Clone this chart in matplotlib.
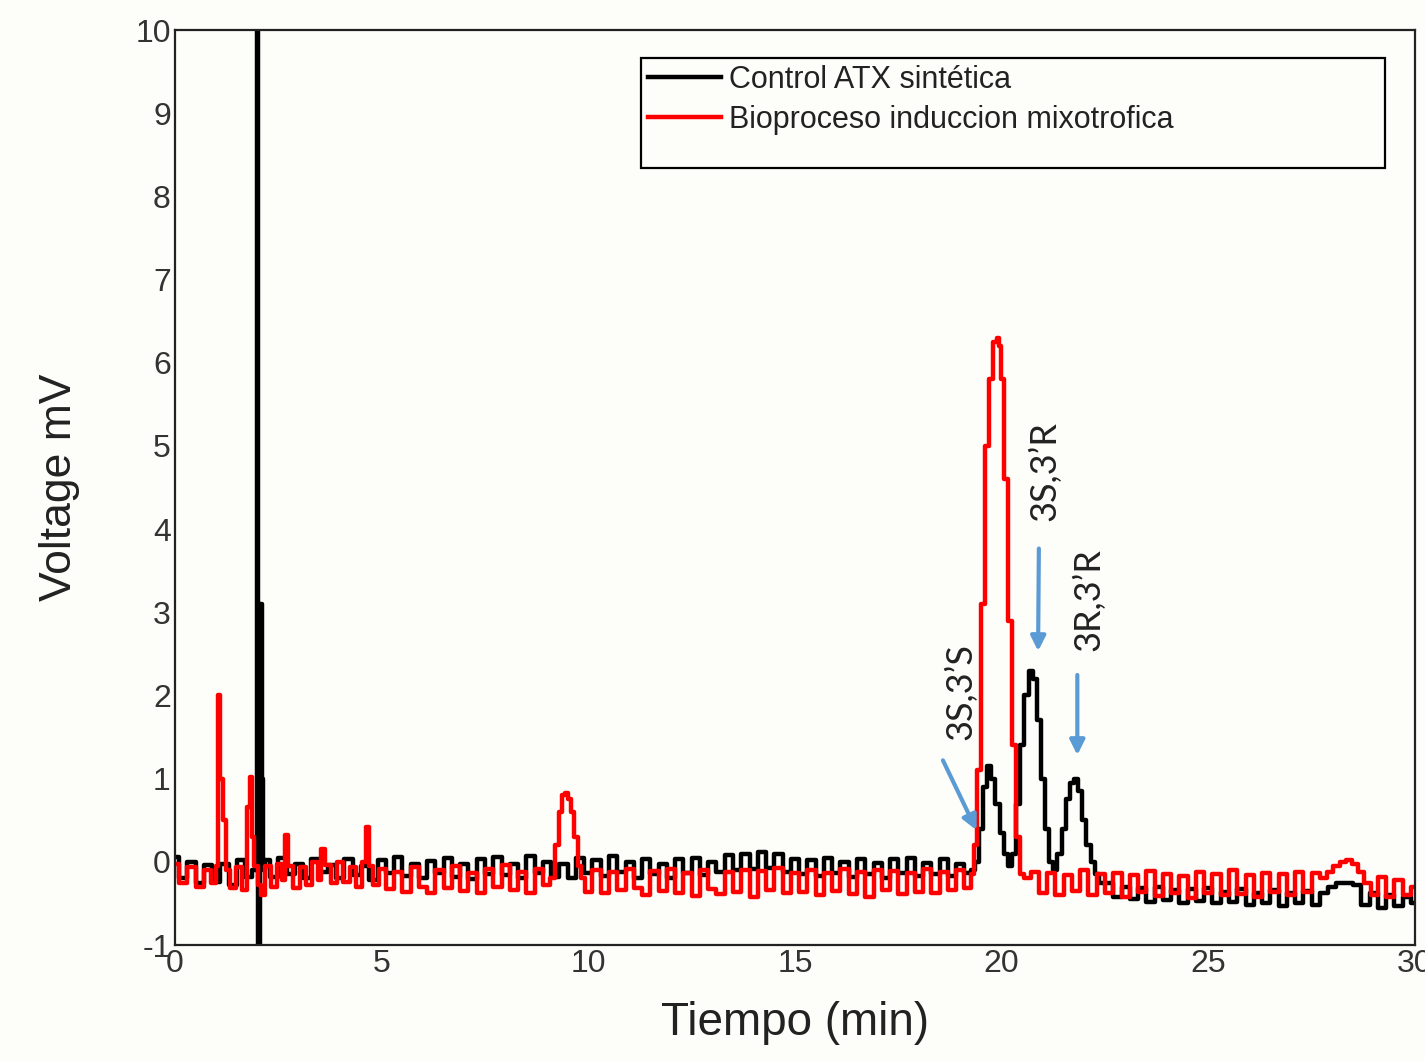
import numpy as np
import matplotlib.pyplot as plt
from matplotlib.patches import Rectangle

plt.rcParams['axes.unicode_minus'] = False

# Chromatogram traces (time in min, signal in mV)

# --- Control ATX sintetica (black) ---
black_base1_mv = [0.06, -0.2, 0.0, -0.26, -0.04, -0.24, -0.02, -0.28, 0.02, -0.18]     # 0.0-1.8 every 0.2
black_spike_t = [1.95, 2.0, 2.04, 2.08, 2.12, 2.16]
black_spike_mv = [-0.1, 11.0, -1.5, 3.1, 1.0, -0.1]
black_base2_mv = [0.02, -0.18, 0.05, -0.15, -0.02, -0.2, 0.04, -0.12, -0.04, -0.19,
                  0.03, -0.16, -0.05, -0.22, 0.02, -0.14, 0.06, -0.17, -0.03, -0.2,
                  0.01, -0.13, 0.05, -0.18, -0.02, -0.21, 0.04, -0.15, 0.06, -0.16,
                  -0.03, -0.2, 0.07, -0.13, 0.0, -0.18, -0.02, -0.2, 0.05, -0.14,
                  0.02, -0.17, 0.07, -0.12, 0.0, -0.19, 0.04, -0.15, -0.02, -0.2,
                  0.03, -0.13, 0.05, -0.16, 0.0, -0.12, 0.08, -0.1, 0.1, -0.08,
                  0.12, -0.07, 0.09, -0.12, 0.04, -0.15, 0.02, -0.17, 0.05, -0.14,
                  0.0, -0.18, 0.04, -0.15, -0.01, -0.19, 0.03, -0.14, 0.05, -0.17,
                  -0.01, -0.15, 0.03, -0.17, -0.02, -0.14]                              # 2.2-19.2 every 0.2
black_peaks_t = [19.3, 19.4, 19.5, 19.6, 19.7, 19.8, 19.9, 20.0, 20.1, 20.2,
                 20.3, 20.4, 20.5, 20.6, 20.7, 20.8, 20.9, 21.0, 21.1, 21.2,
                 21.3, 21.4, 21.5, 21.6, 21.7, 21.8, 21.9, 22.0, 22.1, 22.2, 22.3, 22.4]
black_peaks_mv = [-0.1, 0.0, 0.4, 0.9, 1.15, 1.0, 0.7, 0.35, 0.1, -0.05,
                  0.1, 0.7, 1.4, 2.0, 2.3, 2.2, 1.7, 1.0, 0.4, 0.0,
                  -0.1, 0.1, 0.4, 0.75, 0.95, 1.0, 0.85, 0.5, 0.2, 0.0, -0.15, -0.25]
black_base3_mv = [-0.25, -0.42, -0.3, -0.45, -0.32, -0.48, -0.3, -0.46, -0.34, -0.5,
                  -0.33, -0.47, -0.31, -0.5, -0.36, -0.48, -0.33, -0.52, -0.37, -0.49,
                  -0.34, -0.53, -0.37, -0.5, -0.35, -0.52, -0.38,
                  -0.3, -0.26, -0.25, -0.28, -0.52,
                  -0.38, -0.55, -0.4, -0.53, -0.42, -0.5]                               # 22.6-30.0 every 0.2

# --- Bioproceso induccion mixotrofica (red) ---
red_base1_mv = [-0.02, -0.25, -0.06, -0.3, -0.1]                                          # 0.0-0.8 every 0.2
red_spikes_t = [0.95, 1.02, 1.07, 1.12, 1.2, 1.27, 1.4, 1.55, 1.7, 1.78, 1.84, 1.88, 1.95,
                2.05, 2.12, 2.25, 2.4, 2.55, 2.64, 2.7, 2.77, 2.95, 3.1, 3.25, 3.4, 3.5,
                3.58, 3.7, 3.85, 4.0, 4.15, 4.3, 4.45, 4.58, 4.65, 4.72, 4.85]
red_spikes_mv = [-0.25, -0.05, 2.0, 1.0, 0.5, -0.1, -0.32, -0.06, -0.34, 0.66, 1.02, 0.3, -0.05,
                 -0.28, -0.4, -0.05, -0.3, -0.02, -0.22, 0.32, -0.05, -0.32, -0.06, -0.28, 0.0, -0.22,
                 0.15, -0.04, -0.26, 0.0, -0.24, -0.06, -0.3, 0.0, 0.42, -0.05, -0.28]
red_base2_mv = [-0.08, -0.33, -0.12, -0.36, -0.06, -0.3, -0.38, -0.1, -0.32, -0.05,
                -0.35, -0.14, -0.38, -0.09, -0.3, -0.04, -0.34, -0.12, -0.37, -0.08, -0.28]  # 5.0-9.0 every 0.2
red_peak1_t = [9.15, 9.25, 9.32, 9.4, 9.47, 9.55, 9.62, 9.7, 9.78, 9.85]
red_peak1_mv = [-0.2, 0.2, 0.6, 0.8, 0.83, 0.75, 0.6, 0.3, -0.05, -0.2]
red_base3_mv = [-0.36, -0.1, -0.38, -0.12, -0.34, -0.08, -0.32, -0.4, -0.11, -0.35,
                -0.09, -0.37, -0.13, -0.41, -0.1, -0.33, -0.39, -0.12, -0.36, -0.1,
                -0.42, -0.11, -0.34, -0.07, -0.38, -0.13, -0.36, -0.1, -0.4, -0.14,
                -0.35, -0.08, -0.39, -0.12, -0.42, -0.1, -0.34, -0.11, -0.39, -0.13,
                -0.36, -0.08, -0.38, -0.12, -0.34, -0.1, -0.32]                            # 10.0-19.2 every 0.2
red_peak2_t = [19.3, 19.38, 19.45, 19.55, 19.65, 19.75, 19.85, 19.9, 19.95, 20.0,
               20.1, 20.2, 20.3, 20.4, 20.5, 20.6]
red_peak2_mv = [-0.15, 0.2, 1.1, 3.1, 5.0, 5.8, 6.25, 6.3, 6.2, 5.8,
                4.6, 2.9, 1.4, 0.3, -0.15, -0.2]
red_base4_mv = [-0.12, -0.38, -0.14, -0.4, -0.16, -0.35, -0.1, -0.4, -0.15, -0.37,
                -0.13, -0.42, -0.16, -0.36, -0.11, -0.41, -0.15, -0.38, -0.17, -0.43,
                -0.12, -0.37, -0.15, -0.4, -0.1, -0.39, -0.16, -0.42, -0.13, -0.36,
                -0.15, -0.4, -0.12, -0.36, -0.14]                                          # 20.8-27.6 every 0.2
red_bump_t = [27.8, 27.95, 28.1, 28.25, 28.4, 28.55, 28.7, 28.85]
red_bump_mv = [-0.2, -0.12, -0.05, 0.0, 0.02, -0.02, -0.12, -0.25]
red_base5_mv = [-0.4, -0.18, -0.42, -0.22, -0.4, -0.3]                                     # 29.0-30.0 every 0.2

peak_labels = ["3S,3\u2019S", "3S,3\u2019R", "3R,3\u2019R"]
label_t = [19.0, 21.05, 22.1]
label_mv = [2.05, 4.7, 3.15]
arrow_from = [(18.55, 1.25), (20.9, 3.8), (21.83, 2.28)]
arrow_to = [(19.42, 0.35), (20.88, 2.5), (21.83, 1.25)]

series_names = ["Control ATX sint\u00e9tica", "Bioproceso induccion mixotrofica"]


def grid(start, stop, values):
    return list(np.linspace(start, stop, len(values)))


black_t = (grid(0.0, 1.8, black_base1_mv) + black_spike_t + grid(2.2, 19.2, black_base2_mv)
           + black_peaks_t + grid(22.6, 30.0, black_base3_mv))
black_mv = black_base1_mv + black_spike_mv + black_base2_mv + black_peaks_mv + black_base3_mv

red_t = (grid(0.0, 0.8, red_base1_mv) + red_spikes_t + grid(5.0, 9.0, red_base2_mv)
         + red_peak1_t + grid(10.0, 19.2, red_base3_mv) + red_peak2_t
         + grid(20.8, 27.6, red_base4_mv) + red_bump_t + grid(29.0, 30.0, red_base5_mv))
red_mv = (red_base1_mv + red_spikes_mv + red_base2_mv + red_peak1_mv + red_base3_mv
          + red_peak2_mv + red_base4_mv + red_bump_mv + red_base5_mv)

bg = '#fdfdf9'
fig = plt.figure(figsize=(14.25, 10.61), dpi=100, facecolor=bg)
ax = fig.add_axes([0.1228, 0.1093, 0.8702, 0.8624], facecolor=bg)

ax.plot(black_t, black_mv, color='black', lw=3.2, drawstyle='steps-mid', label=series_names[0])
ax.plot(red_t, red_mv, color='#ff0000', lw=3.2, drawstyle='steps-mid', label=series_names[1])

arrow_color = '#5b9bd5'
for (x0, y0), (x1, y1) in zip(arrow_from, arrow_to):
    ax.annotate('', xy=(x1, y1), xytext=(x0, y0),
                arrowprops=dict(arrowstyle='-|>', color=arrow_color, lw=3, mutation_scale=22))
for txt, x, y in zip(peak_labels, label_t, label_mv):
    ax.text(x, y, txt, rotation=90, ha='center', va='center', fontsize=26,
            family=['Lato', 'DejaVu Sans'], color='#222222')

ax.set_xlim(0, 30)
ax.set_ylim(-1, 10)
ax.set_xticks(range(0, 31, 5))
ax.set_yticks(range(-1, 11))
ax.tick_params(length=0, pad=3, labelsize=23, labelcolor='#333333')
for lab in ax.get_xticklabels() + ax.get_yticklabels():
    lab.set_family('Liberation Sans')
for sp in ax.spines.values():
    sp.set_linewidth(1.6)
    sp.set_color('#222222')

ax.set_xlabel('Tiempo (min)', fontsize=33, family='Liberation Sans', color='#222222', labelpad=16)
ax.set_ylabel('Voltage mV', fontsize=32, family='Liberation Sans', color='#222222', labelpad=40)

# legend box is larger than its content in the original
ax.add_patch(Rectangle((0.3758, 0.8492), 0.600, 0.1202, transform=ax.transAxes,
                       fill=False, edgecolor='black', lw=1.6, zorder=5))
leg = ax.legend(loc='upper left', bbox_to_anchor=(0.3815, 0.962), frameon=False,
                handlelength=2.4, handletextpad=0.25, labelspacing=0.32,
                borderpad=0, borderaxespad=0, prop={'family': 'Liberation Sans', 'size': 22})
for t in leg.get_texts():
    t.set_color('#222222')

fig.savefig('out.png', dpi=100, facecolor=bg)
